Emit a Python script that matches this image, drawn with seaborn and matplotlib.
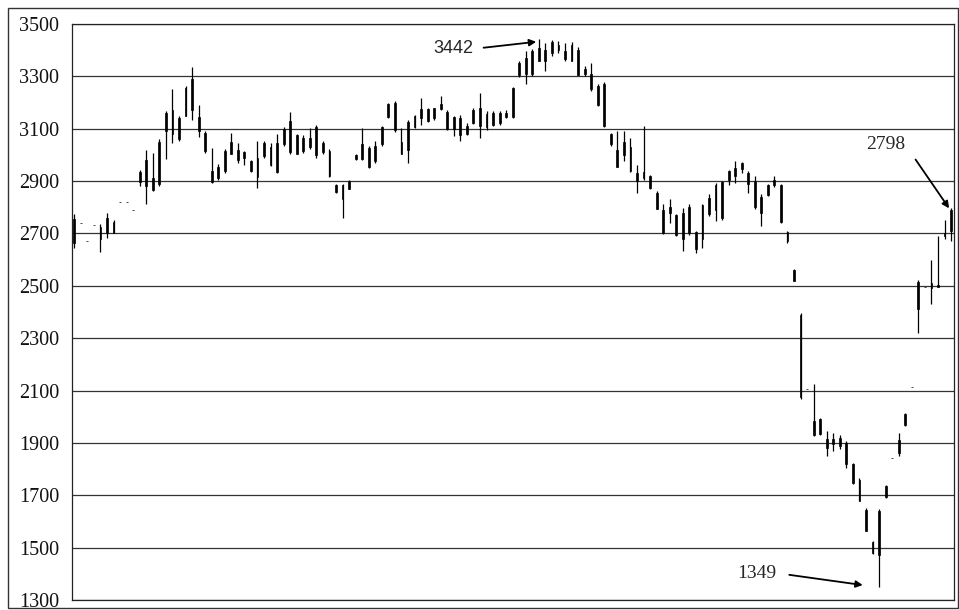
import numpy as np
import pandas as pd
import matplotlib
matplotlib.use("Agg")
import matplotlib.pyplot as plt
import seaborn as sns
from matplotlib.patches import Rectangle

# daily prices (high, low, open, close)
highs = [2775, 2740, 2672, 2732, 2735, 2779, 2750, 2821, 2821, 2790,
         2944, 3017, 3008, 3062, 3169, 3252, 3148, 3264, 3336, 3191,
         3092, 3027, 2966, 3023, 3082, 3046, 3014, 2982, 3052, 3055,
         3046, 3078, 3106, 3164, 3080, 3075, 3101, 3116, 3052, 3021,
         2887, 2887, 2906, 3004, 3103, 3034, 3052, 3110, 3200, 3206,
         3103, 3135, 3154, 3216, 3181, 3181, 3224, 3173, 3148, 3151,
         3122, 3178, 3235, 3166, 3166, 3169, 3173, 3260, 3359, 3397,
         3404, 3442, 3427, 3438, 3435, 3427, 3433, 3414, 3338, 3351,
         3270, 3277, 3084, 3091, 3091, 3065, 2961, 3110, 2925, 2862,
         2811, 2830, 2775, 2798, 2811, 2709, 2811, 2849, 2893, 2900,
         2944, 2976, 2973, 2938, 2919, 2849, 2890, 2919, 2887, 2711,
         2563, 2397, 2105, 2124, 1996, 1946, 1939, 1932, 1908, 1825,
         1765, 1652, 1525, 1646, 1738, 1841, 1939, 2015, 2114, 2523,
         2494, 2597, 2690, 2753, 2798]
lows = [2645, 2740, 2672, 2732, 2628, 2684, 2700, 2821, 2821, 2790,
        2881, 2811, 2862, 2881, 2986, 3046, 3052, 3148, 3135, 3070,
        3008, 2893, 2906, 2931, 3002, 2969, 2963, 2934, 2874, 2989,
        2957, 2932, 3034, 3002, 3002, 3009, 3021, 2989, 3002, 2915,
        2855, 2760, 2868, 2982, 2982, 2951, 2969, 3034, 3141, 3088,
        3004, 2969, 3103, 3116, 3125, 3135, 3170, 3096, 3071, 3055,
        3075, 3119, 3063, 3096, 3109, 3116, 3141, 3141, 3296, 3270,
        3303, 3357, 3319, 3376, 3389, 3359, 3357, 3306, 3300, 3244,
        3187, 3106, 3034, 2953, 2976, 2935, 2855, 2906, 2868, 2792,
        2699, 2741, 2690, 2633, 2696, 2626, 2646, 2766, 2747, 2753,
        2885, 2893, 2932, 2855, 2792, 2728, 2843, 2877, 2741, 2664,
        2518, 2066, 2105, 1927, 1932, 1850, 1869, 1875, 1806, 1742,
        1679, 1563, 1474, 1349, 1691, 1841, 1850, 1964, 2114, 2320,
        2494, 2431, 2495, 2677, 2671]
opens = [2755, 2740, 2672, 2732, 2725, 2700, 2702, 2821, 2821, 2790,
         2895, 2880, 2910, 2890, 3090, 3080, 3140, 3150, 3170, 3145,
         3085, 2940, 2910, 2940, 3005, 3020, 3012, 2978, 2915, 2995,
         3030, 2935, 3040, 3010, 3075, 3015, 3030, 3000, 3045, 3015,
         2885, 2885, 2870, 2985, 2985, 2955, 2975, 3040, 3145, 3095,
         3050, 3020, 3105, 3140, 3130, 3140, 3175, 3165, 3145, 3140,
         3080, 3122, 3110, 3105, 3115, 3120, 3145, 3145, 3305, 3310,
         3310, 3360, 3400, 3390, 3420, 3395, 3420, 3400, 3330, 3310,
         3265, 3270, 3080, 3020, 3050, 3030, 2930, 2935, 2920, 2855,
         2790, 2800, 2770, 2780, 2700, 2705, 2680, 2775, 2790, 2760,
         2905, 2920, 2945, 2930, 2900, 2840, 2848, 2885, 2885, 2705,
         2560, 2390, 2105, 1985, 1990, 1915, 1915, 1920, 1900, 1820,
         1760, 1645, 1520, 1470, 1695, 1841, 1860, 1968, 2114, 2410,
         2494, 2490, 2495, 2690, 2710]
closes = [2665, 2740, 2672, 2732, 2680, 2760, 2745, 2821, 2821, 2790,
          2935, 2980, 2865, 3050, 3160, 3170, 3060, 3255, 3290, 3090,
          3015, 2895, 2955, 3015, 3050, 2980, 2990, 2940, 2990, 3045,
          2960, 3045, 3100, 3130, 3005, 3065, 3065, 3105, 3010, 2918,
          2858, 2830, 2900, 3000, 3040, 3025, 3035, 3105, 3195, 3200,
          3005, 3125, 3150, 3175, 3175, 3178, 3195, 3100, 3100, 3075,
          3110, 3172, 3180, 3155, 3160, 3160, 3160, 3255, 3350, 3370,
          3395, 3410, 3360, 3430, 3400, 3365, 3360, 3306, 3310, 3250,
          3190, 3110, 3040, 2955, 3000, 2940, 2900, 2910, 2875, 2795,
          2700, 2780, 2695, 2680, 2800, 2640, 2810, 2835, 2885, 2895,
          2940, 2950, 2970, 2890, 2800, 2780, 2885, 2905, 2745, 2670,
          2520, 2075, 2105, 1930, 1935, 1880, 1895, 1890, 1820, 1745,
          1680, 1565, 1478, 1640, 1735, 1841, 1910, 2010, 2114, 2515,
          2494, 2510, 2505, 2700, 2790]

y_ticks = list(range(1300, 3501, 200))

df = pd.DataFrame({"day": np.arange(len(highs)), "high": highs, "low": lows,
                   "open": opens, "close": closes})
df["top"] = df[["open", "close"]].max(axis=1)
df["bottom"] = df[["open", "close"]].min(axis=1)

sns.set_theme(style="white")
plt.rcParams["font.family"] = ["Liberation Serif", "DejaVu Serif"]

fig = plt.figure(figsize=(9.59, 6.10), dpi=100)
ax = fig.add_axes([72 / 959, 1 - 600 / 610, (954 - 72) / 959, 576 / 610])

ax.set_ylim(1300, 3500)
ax.set_xlim(-0.35, 134.45)
ax.set_yticks(y_ticks)
ax.set_yticklabels([str(t) for t in y_ticks], fontsize=14.5)
ax.set_xticks([])
ax.tick_params(axis="y", length=0, pad=9, colors="#111")
ax.yaxis.grid(True, color="#333", lw=0.9)
ax.set_axisbelow(True)
for s in ax.spines.values():
    s.set_color("#222")
    s.set_linewidth(0.9)

# wicks then bodies
ax.vlines(df["day"], df["low"], df["high"], color="black", lw=0.9, zorder=3)
ax.bar(df["day"], df["top"] - df["bottom"], bottom=df["bottom"], width=0.28,
       color="black", edgecolor="black", linewidth=0.5, zorder=4)

# annotations, arrows leave from the right middle of each label
arrow = dict(arrowstyle="-|>", color="black", lw=1.3, mutation_scale=10,
             shrinkB=0, relpos=(1, 0.5))
ax.annotate("3442", xy=(70.6, 3432), xytext=(61, 3405), fontsize=13,
            family="Liberation Sans", va="center", ha="right",
            arrowprops=dict(arrow, shrinkA=5))
ax.annotate("2798", xy=(133.7, 2796), xytext=(124, 3040), fontsize=14,
            va="center", ha="center",
            arrowprops=dict(arrow, shrinkA=9))
ax.annotate("1349", xy=(120.5, 1357), xytext=(107.3, 1403), fontsize=14,
            va="center", ha="right",
            arrowprops=dict(arrow, shrinkA=7))

# outer frame round the whole picture
fig.patches.append(Rectangle((8 / 959, 2 / 610), 950 / 959, 600 / 610,
                             transform=fig.transFigure, fill=False,
                             edgecolor="#333", lw=1.0))

fig.savefig("out.png", dpi=100, facecolor="white")
